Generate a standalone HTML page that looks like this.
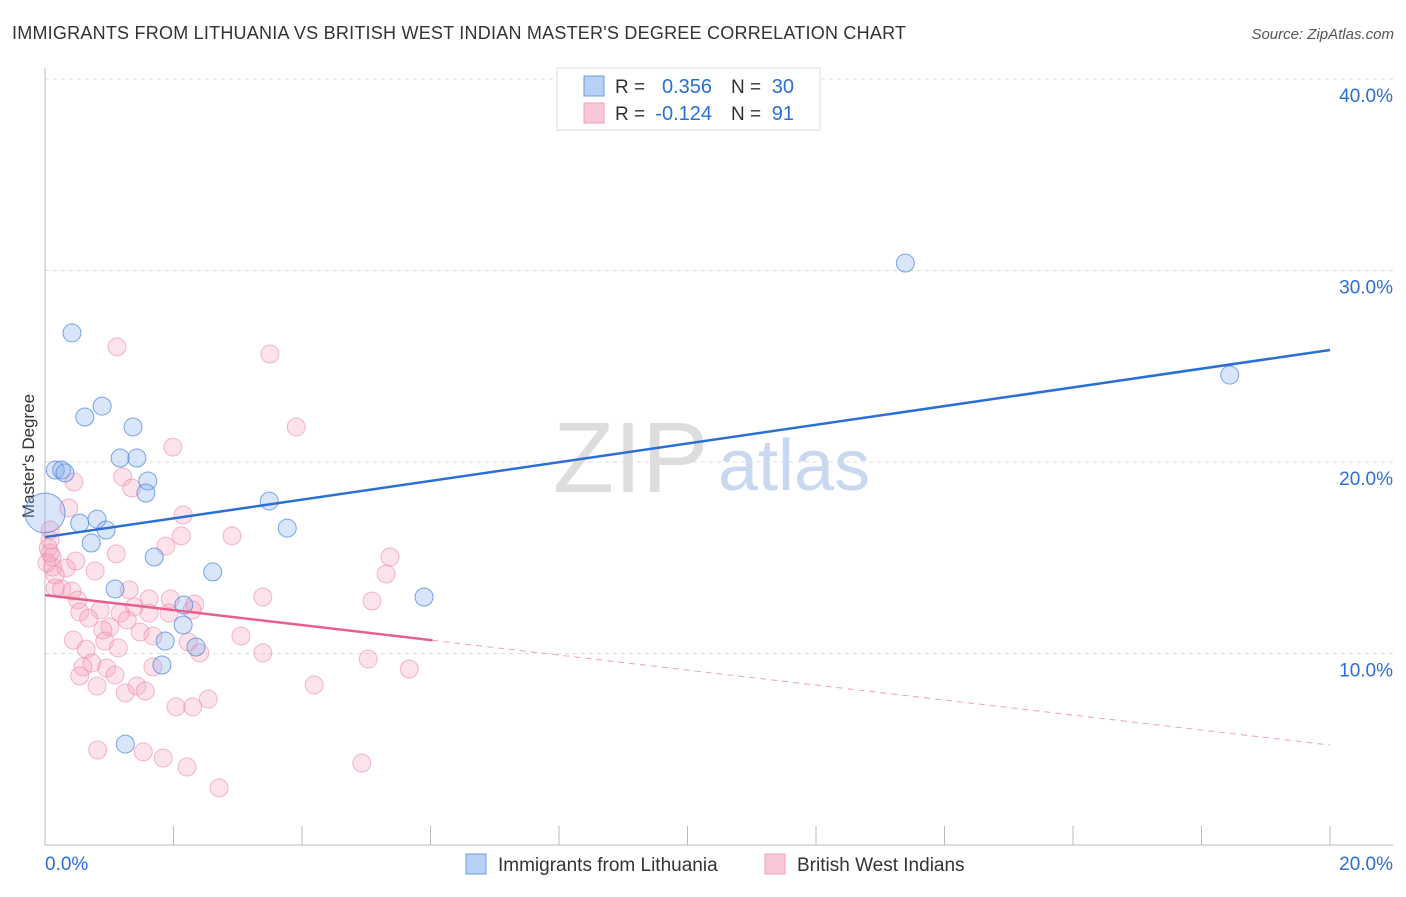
<!DOCTYPE html>
<html><head><meta charset="utf-8"><style>
body{margin:0;background:#fff;font-family:"Liberation Sans",sans-serif;}
svg text{font-family:"Liberation Sans",sans-serif;}
</style></head><body>
<svg id="chart" width="1406" height="892">
<text x="12" y="39" font-size="18" fill="#333" textLength="894">IMMIGRANTS FROM LITHUANIA VS BRITISH WEST INDIAN MASTER'S DEGREE CORRELATION CHART</text>
<text x="1394" y="39" font-size="15" fill="#555" font-style="italic" text-anchor="end">Source: ZipAtlas.com</text>
<text x="34" y="456" font-size="17" fill="#333" text-anchor="middle" transform="rotate(-90 34 456)">Master's Degree</text>
<text x="553" y="492" font-size="100" fill="#ddd" font-family="Liberation Serif">ZIP</text>
<text x="718" y="490" font-size="72" fill="#c8d8f0">atlas</text>
<g id="grid"></g><g id="pts"></g><g id="lines"></g>
<g>
<rect x="557" y="68" width="263" height="62" fill="#fff" stroke="#ddd"/>
<rect x="584" y="76" width="20" height="20" fill="#b8d0f5" stroke="#6a9be0"/>
<rect x="584" y="103" width="20" height="20" fill="#f8c8d6" stroke="#f0a0b8"/>
<text x="615" y="93" font-size="19" fill="#333">R =</text>
<text x="712" y="93" font-size="20" fill="#2a6fd6" text-anchor="end">0.356</text>
<text x="731" y="93" font-size="19" fill="#333">N =</text>
<text x="794" y="93" font-size="20" fill="#2a6fd6" text-anchor="end">30</text>
<text x="615" y="120" font-size="19" fill="#333">R =</text>
<text x="712" y="120" font-size="20" fill="#2a6fd6" text-anchor="end">-0.124</text>
<text x="731" y="120" font-size="19" fill="#333">N =</text>
<text x="794" y="120" font-size="20" fill="#2a6fd6" text-anchor="end">91</text>
</g>
<g>
<rect x="466" y="854" width="20" height="20" fill="#b8d0f5" stroke="#6a9be0"/>
<text x="498" y="871" font-size="19" fill="#333">Immigrants from Lithuania</text>
<rect x="765" y="854" width="20" height="20" fill="#f8c8d6" stroke="#f0a0b8"/>
<text x="797" y="871" font-size="19" fill="#333">British West Indians</text>
</g>
</svg>
<script>
const yTicks=[10,20,30,40];
const yTickLabels=["10.0%","20.0%","30.0%","40.0%"];
const xTickLabels=["0.0%","20.0%"];
const blueX=[13.39,18.44,0.42,0.89,0.62,1.37,0.16,0.26,0.31,1.17,1.43,1.60,1.57,3.49,3.77,0.81,0.54,0.95,0.72,1.70,2.61,5.90,1.09,2.16,2.15,2.35,1.87,1.82,1.25,0];
const blueY=[30.39,24.54,26.74,22.92,22.35,21.83,19.58,19.58,19.43,20.21,20.21,19.01,18.38,17.96,16.55,17.02,16.81,16.45,15.77,15.04,14.26,12.95,13.37,12.53,11.49,10.34,10.65,9.40,5.27,17.34];
const pinkX=[3.91,1.99,0.45,1.21,1.35,0.37,2.15,2.12,1.88,2.91,1.11,0.48,0.78,0.11,0.12,0.33,5.37,5.31,0.16,0.26,0.42,1.31,3.39,5.09,0.51,1.62,1.95,2.33,0.54,0.86,1.39,1.62,1.93,2.29,0.68,1.17,1.28,1.01,0.90,3.05,1.48,1.68,0.44,0.93,2.23,0.64,1.14,2.41,3.39,5.03,5.67,0.73,0.59,0.54,0.96,1.09,1.68,0.81,1.25,1.43,1.56,4.19,2.54,2.04,2.30,0.82,1.53,1.84,2.21,2.71,4.93,1.12,3.50,0.05,0.08,0.03,0.16,0.08,0.08];
const pinkY=[21.83,20.78,18.96,19.22,18.64,17.60,17.23,16.14,15.61,16.14,15.20,14.83,14.31,15.04,14.52,14.46,15.04,14.15,13.42,13.37,13.26,13.32,12.95,12.74,12.79,12.85,12.85,12.58,12.17,12.27,12.43,12.11,12.11,12.27,11.85,12.11,11.75,11.38,11.23,10.91,11.12,10.91,10.70,10.65,10.60,10.23,10.29,10.03,10.03,9.71,9.19,9.50,9.30,8.83,9.24,8.88,9.30,8.30,7.94,8.30,8.04,8.36,7.62,7.21,7.21,4.96,4.86,4.54,4.07,2.98,4.28,26.01,25.64,15.51,15.25,14.73,14.10,15.93,16.45];
const blueLine=[16.08,25.85];
const pinkLine=[13.05,5.22];
const pinkSolidEnd=6.03;
const NS="http://www.w3.org/2000/svg";
const X=v=>45+v*64.25, Y=v=>845-v*19.15;
function mk(t,a,p){const e=document.createElementNS(NS,t);for(const k in a)e.setAttribute(k,a[k]);p.appendChild(e);return e;}
const grid=document.getElementById('grid');
yTicks.forEach((t,i)=>{
 const l=mk('line',{x1:45,x2:1393,y1:Y(t),y2:Y(t),stroke:'#ddd','stroke-dasharray':'4,4'},grid);
 
 
 const tx=mk('text',{x:1393,y:Y(t)+23,'font-size':19,fill:'#2a6fd6','text-anchor':'end'},grid);tx.textContent=yTickLabels[i];
 
 
});
mk('line',{x1:45,x2:45,y1:68,y2:845,stroke:'#bbb'},grid);
mk('line',{x1:45,x2:1393,y1:845,y2:845,stroke:'#bbb'},grid);
for(let i=0;i<=10;i++){const t=mk('line',{x1:X(i*2),x2:X(i*2),y1:826,y2:845,stroke:'#bbb'},grid);
 
 }
[[0,'start',X(0)],[1,'end',1393]].forEach(([i,a,x])=>{const t=mk('text',{x:x,y:870,'font-size':19,fill:'#2a6fd6','text-anchor':a},grid);t.textContent=xTickLabels[i];
 
 });
const pts=document.getElementById('pts');
pinkX.forEach((x,i)=>{const c=mk('circle',{cx:X(x),cy:Y(pinkY[i]),r:9,fill:'rgba(244,160,186,0.3)',stroke:'rgba(236,130,165,0.55)'},pts);
 
 });
blueX.forEach((x,i)=>{const c=mk('circle',{cx:X(x),cy:Y(blueY[i]),r:i==blueX.length-1?20:9,fill:'rgba(130,170,235,0.3)',stroke:'rgba(70,130,220,0.7)'},pts);
 
 });
const lines=document.getElementById('lines');
const bl=mk('line',{x1:X(0),y1:Y(blueLine[0]),x2:X(20),y2:Y(blueLine[1]),stroke:'#2a6fd6','stroke-width':2.5},lines);


const py=x=>pinkLine[0]+(pinkLine[1]-pinkLine[0])*x/20;
const pl=mk('line',{x1:X(0),y1:Y(py(0)),x2:X(pinkSolidEnd),y2:Y(py(pinkSolidEnd)),stroke:'#e8608a','stroke-width':2.5},lines);


const pd=mk('line',{x1:X(pinkSolidEnd),y1:Y(py(pinkSolidEnd)),x2:X(20),y2:Y(py(20)),stroke:'#f0a0b8','stroke-width':1,'stroke-dasharray':'6,5'},lines);


</script>
</body></html>
